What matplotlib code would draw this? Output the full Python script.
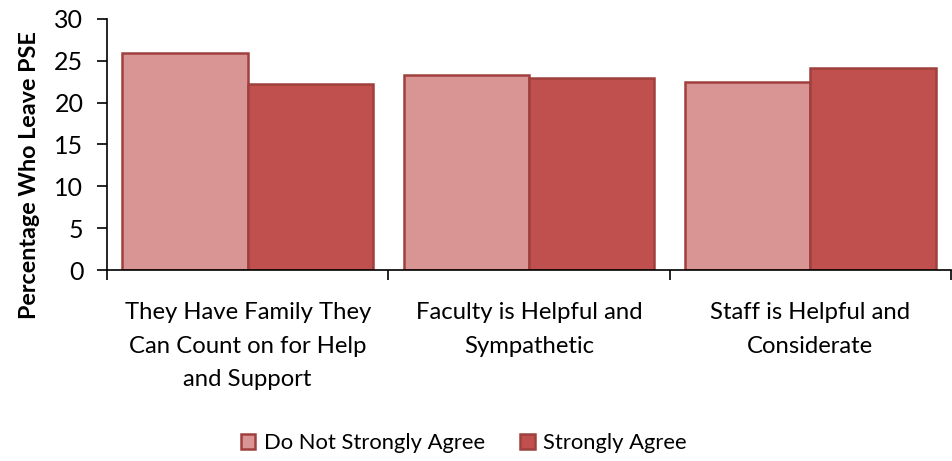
import matplotlib
matplotlib.use("Agg")
import matplotlib.pyplot as plt
import numpy as np
from matplotlib.patches import Patch

categories = ["They Have Family They\nCan Count on for Help\nand Support",
              "Faculty is Helpful and\nSympathetic",
              "Staff is Helpful and\nConsiderate"]
series_names = ["Do Not Strongly Agree", "Strongly Agree"]
not_strongly = [25.9, 23.3, 22.5]
strongly = [22.2, 23.0, 24.1]
yticks = [0, 5, 10, 15, 20, 25, 30]

plt.rcParams['font.family'] = ['Lato', 'DejaVu Sans']

light = "#D99594"
dark = "#C0504D"
edge = "#A0403E"

fig = plt.figure(figsize=(9.52, 4.61), dpi=100)
ax = fig.add_axes([107/952, 1 - 270/461, (951-107)/952, (270-19)/461])

x = np.arange(len(categories))
w = 0.445
ax.bar(x - w/2, not_strongly, w, color=light, edgecolor=edge, linewidth=1.8, label=series_names[0], zorder=2)
ax.bar(x + w/2, strongly, w, color=dark, edgecolor=edge, linewidth=1.8, label=series_names[1], zorder=2)

ax.set_xlim(-0.5, len(categories) - 0.5)
ax.set_ylim(0, 30)
ax.set_yticks(yticks)
ax.set_yticklabels([str(v) for v in yticks], fontsize=18)
ax.set_xticks(x)
ax.set_xticklabels(categories, fontsize=17.2, linespacing=1.75)
ax.tick_params(axis='x', which='major', length=0, pad=23)
ax.set_xticks(np.arange(-0.5, len(categories), 1.0), minor=True)
ax.tick_params(axis='x', which='minor', length=7, width=1.2, direction='out')
ax.tick_params(axis='y', length=7, width=1.2, direction='out', pad=10)

for s in ['top', 'right']:
    ax.spines[s].set_visible(False)
for s in ['left', 'bottom']:
    ax.spines[s].set_linewidth(1.2)
    ax.spines[s].set_color('black')

ax.set_ylabel("Percentage Who Leave PSE", fontsize=16.8, fontweight='bold')
ax.yaxis.set_label_coords((40 - 107) / (951 - 107), (270 - 175) / (270 - 19))

handles = [Patch(facecolor=light, edgecolor=edge, linewidth=1.8),
           Patch(facecolor=dark, edgecolor=edge, linewidth=1.8)]
fig.legend(handles, series_names, loc='center', bbox_to_anchor=(464/952, 1 - 443/461),
           ncol=2, frameon=False, fontsize=15.8, handlelength=0.65, handleheight=0.65,
           handletextpad=0.4, columnspacing=1.6)

fig.savefig("out.png", dpi=100)
